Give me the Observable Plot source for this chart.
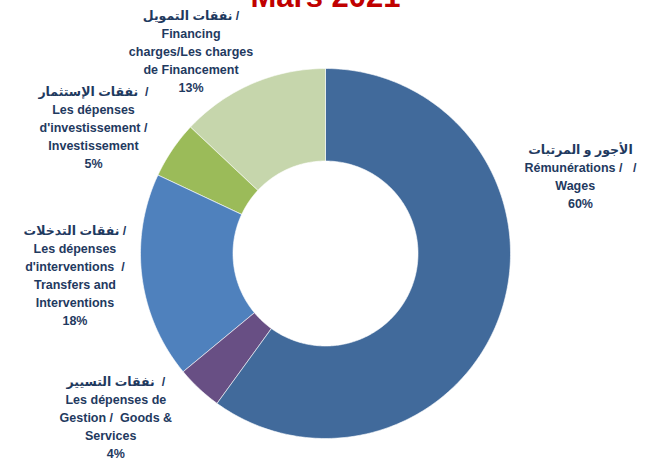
<!DOCTYPE html>
<html>
<head>
<meta charset="utf-8">
<script src="https://cdn.jsdelivr.net/npm/d3@7"></script>
<script src="https://cdn.jsdelivr.net/npm/@observablehq/plot@0.6"></script>
<style>
  html, body { margin: 0; padding: 0; background: #fff; }
  #chart { width: 664px; height: 463px; overflow: hidden; }
</style>
</head>
<body>
<div id="chart"></div>
<script>
// ---- data ----
const title = "Mars 2021";
const categories = ["Wages", "Goods & Services", "Transfers and Interventions", "Investissement", "Financing charges"];
const shares = [60, 4, 18, 5, 13];
const labelTexts = [
  "الأجور و المرتبات\nRémunérations /   /\nWages   \n60%",
  "نفقات التسيير  /\nLes dépenses de\nGestion /  Goods &\nServices   \n4%",
  "نفقات التدخلات /\nLes dépenses\nd'interventions  /\nTransfers and\nInterventions\n18%",
  "نفقات الإستثمار  /\nLes dépenses\nd'investissement /\nInvestissement\n5%",
  "نفقات التمويل /\nFinancing\ncharges/Les charges\nde Financement\n13%"
];
const colors = ["#416A9B", "#684F84", "#4F81BD", "#9BBB59", "#C6D6AC"];

// ---- layout (styles / offsets only) ----
const innerRatio = 0.5;
const labelDx = [79, -83, -67, -79, -61];
const labelDy = [-135, 28, -2, -23, -33];

// ---- build slice polygons from the data ----
const pie = d3.pie().sort(null).value(d => d)(shares);
const polyPts = [];
pie.forEach((a, i) => {
  const n = Math.max(2, Math.ceil((a.endAngle - a.startAngle) / (Math.PI / 180)) + 1);
  for (let k = 0; k < n; k++) {
    const t = a.startAngle + (a.endAngle - a.startAngle) * k / (n - 1);
    polyPts.push({name: categories[i], x: Math.sin(t), y: Math.cos(t)});
  }
  for (let k = n - 1; k >= 0; k--) {
    const t = a.startAngle + (a.endAngle - a.startAngle) * k / (n - 1);
    polyPts.push({name: categories[i], x: innerRatio * Math.sin(t), y: innerRatio * Math.cos(t)});
  }
});
const labelData = pie.map((a, i) => {
  const m = (a.startAngle + a.endAngle) / 2;
  return {name: categories[i], text: labelTexts[i], x: Math.sin(m), y: Math.cos(m), dx: labelDx[i], dy: labelDy[i]};
});

const fontFam = "'Liberation Sans', Arial, 'DejaVu Sans', sans-serif";

const chart = Plot.plot({
  width: 664,
  height: 463,
  marginLeft: 140,
  marginRight: 154,
  marginTop: 68,
  marginBottom: 25,
  x: {domain: [-1, 1], axis: null},
  y: {domain: [-1, 1], axis: null},
  color: {domain: categories, range: colors},
  style: {fontFamily: fontFam, background: "#fff", overflow: "hidden"},
  marks: [
    Plot.line(polyPts, {x: "x", y: "y", z: "name", fill: "name", stroke: "white", strokeWidth: 0.6, curve: "linear-closed"}),
    ...labelData.map(d => Plot.text([d], {
      x: "x", y: "y", text: "text", dx: d.dx, dy: d.dy,
      textAnchor: "middle", lineAnchor: "middle", lineHeight: 1.44,
      fontSize: 12.5, fontWeight: "bold", fill: "#1F3A5F"
    })),
    Plot.text([title], {
      frameAnchor: "top", dy: -62, lineAnchor: "bottom", text: d => d,
      fontSize: 31, fontWeight: "bold", fill: "#C00000"
    })
  ]
});
document.getElementById("chart").appendChild(chart);
</script>
</body>
</html>
